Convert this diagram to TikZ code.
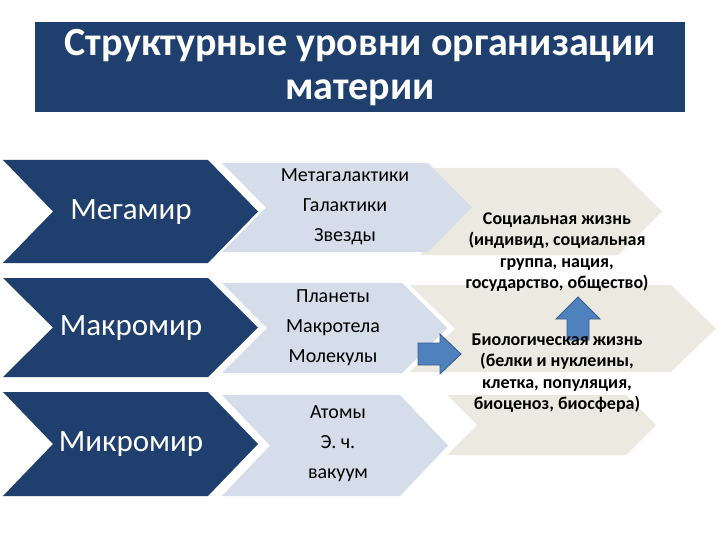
\documentclass[tikz,border=0pt]{standalone}
\usepackage{fontspec}
\setmainfont{Carlito}
\definecolor{dk}{HTML}{1F3F6E}
\definecolor{lb}{HTML}{D5DCEA}
\definecolor{bg}{HTML}{ECEAE0}
\definecolor{ar}{HTML}{4F81BD}
\definecolor{arb}{HTML}{385D8A}
\tikzset{
 txt/.style={font=\fontsize{20}{30}\selectfont, align=center, text=black},
 btxt/.style={font=\bfseries\fontsize{18}{21.5}\selectfont, align=center, text=black},
 big/.style={font=\fontsize{31}{34}\selectfont, text=white},
 barrow/.style={draw=arb, fill=ar, line width=0.8pt}
}
\newcommand{\chev}[6]{% color, x0, top, bottom, xtip, depth
 \fill[#1] (#2,#3) -- (#5-#6,#3) -- (#5,{(#3+#4)/2}) -- (#5-#6,#4) -- (#2,#4) -- (#2+#6,{(#3+#4)/2}) -- cycle;}
\begin{document}
\begin{tikzpicture}[x=1pt,y=-1pt]
\useasboundingbox (0,0) rectangle (720,540);
\fill[white] (0,0) rectangle (720,540);
% header
\fill[dk] (35,22) rectangle (685,112);
\node[font=\bfseries\fontsize{40}{44}\selectfont, text=white, align=center] (title) at (360,68) {Структурные уровни организации\\материи};
% beige
\chev{bg}{420}{168}{255}{662}{44}
\chev{bg}{410}{285}{372}{716}{45}
\chev{bg}{447}{395}{455}{656}{30}
% light blue
\chev{lb}{222}{163}{252}{472}{44}
\chev{lb}{222}{283}{373}{447}{45}
\chev{lb}{222}{395}{496}{448}{48}
% dark
\chev{dk}{3}{160}{263}{258}{50}
\chev{dk}{3}{278}{377}{258}{50}
\chev{dk}{3}{392}{496}{258}{50}
\node[big] (mega) at (131,212) {Мегамир};
\node[big] (makro) at (131,328) {Макромир};
\node[big] (mikro) at (131,444) {Микромир};
\node[txt] (l1) at (345,207) {Метагалактики\\Галактики\\Звезды};
\node[txt] (l2) at (333,328) {Планеты\\Макротела\\Молекулы};
\node[txt] (l3) at (338,444) {Атомы\\Э. ч.\\вакуум};
% arrows
\draw[barrow] (418,343) -- (440,343) -- (440,334) -- (461,354) -- (440,374) -- (440,365) -- (418,365) -- cycle;
\draw[barrow] (567,340) -- (567,319) -- (556,319) -- (578,297) -- (600,319) -- (589,319) -- (589,340) -- cycle;
\node[btxt] (soc) at (557,252) {Социальная жизнь\\(индивид, социальная\\группа, нация,\\государство, общество)};
\node[btxt] (bio) at (557,373) {Биологическая жизнь\\(белки и нуклеины,\\клетка, популяция,\\биоценоз, биосфера)};
\end{tikzpicture}
\end{document}
